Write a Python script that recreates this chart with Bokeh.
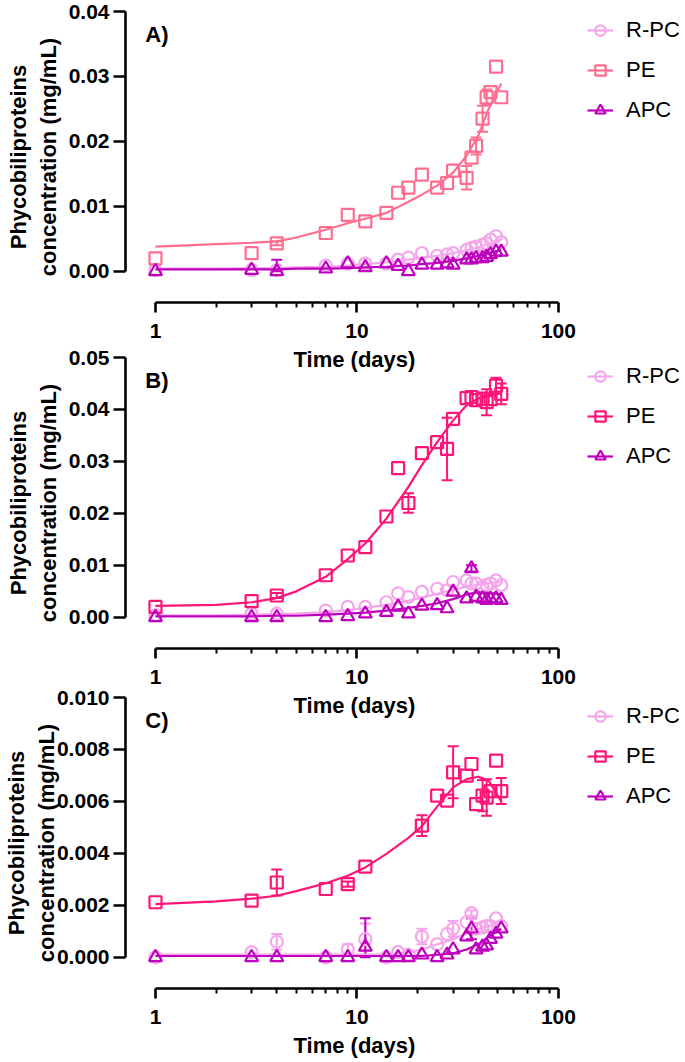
from bokeh.plotting import figure
from bokeh.layouts import column
from bokeh.models import (ColumnDataSource, Whisker, TeeHead, Legend, LegendItem, Title,
                          FixedTicker, PrintfTickFormatter, Label, Range1d)
from bokeh.embed import file_html
from bokeh.resources import INLINE

nan = float("nan")

# ---------------- data ----------------
days = [1, 3, 4, 7, 9, 11, 14, 16, 18, 21, 25, 28, 30, 35, 37, 39, 42, 44, 46, 49, 52]
fit_days = [1, 2, 3, 4, 5, 7, 9, 11, 14, 18, 21, 25, 30, 35, 40, 45, 52]

# Panel A
A_RPC = [0.0002, 0.0002, 0.0002, 0.0009, 0.0012, 0.0012, 0.0012, 0.0018, 0.0021, 0.0028, 0.0024,
         0.0026, 0.0028, 0.0033, 0.0036, 0.0038, 0.0041, 0.0043, 0.0049, 0.0054, 0.0045]
A_PE = [0.0020, 0.0028, 0.0043, 0.0059, 0.0087, 0.0077, 0.0090, 0.0121, 0.0129, 0.0149, 0.0129,
        0.0136, 0.0155, 0.0144, 0.0175, 0.0193, 0.0235, 0.0268, 0.0276, 0.0315, 0.0268]
A_APC = [0.0000, 0.0002, 0.0000, 0.0004, 0.0012, 0.0006, 0.0012, 0.0008, 0.0000, 0.0010, 0.0010,
         0.0012, 0.0010, 0.0018, 0.0018, 0.0020, 0.0020, 0.0022, 0.0026, 0.0030, 0.0030]
A_RPC_err = [0, 0, 0.0003, 0, 0, 0, 0, 0, 0, 0, 0, 0, 0, 0, 0, 0, 0, 0, 0, 0, 0]
A_PE_err = [0, 0, 0.0003, 0, 0, 0, 0, 0, 0, 0, 0, 0, 0, 0.0018, 0, 0.0013, 0.0020, 0.0012, 0, 0, 0]
A_APC_err = [0, 0, 0.0018, 0, 0, 0, 0, 0, 0, 0, 0, 0, 0, 0, 0, 0, 0, 0, 0, 0, 0]
A_RPC_fit = [0.0004, 0.0004, 0.0005, 0.0005, 0.0006, 0.0007, 0.0009, 0.0011, 0.0014, 0.0018, 0.0021,
             0.0024, 0.0028, 0.0032, 0.0037, 0.0042, 0.0050]
A_PE_fit = [0.0038, 0.0042, 0.0044, 0.0046, 0.0052, 0.0064, 0.0074, 0.0081, 0.0090, 0.0107, 0.0118,
            0.0132, 0.0152, 0.0178, 0.0209, 0.0250, 0.0289]
A_APC_fit = [0.0003, 0.0003, 0.0003, 0.0003, 0.0004, 0.0004, 0.0005, 0.0006, 0.0007, 0.0009, 0.0011,
             0.0013, 0.0016, 0.0020, 0.0024, 0.0028, 0.0033]

# Panel B
B_RPC = [0.0004, 0.0007, 0.0007, 0.0013, 0.0020, 0.0020, 0.0029, 0.0046, 0.0039, 0.0049, 0.0055,
         0.0052, 0.0068, 0.0071, 0.0065, 0.0065, 0.0058, 0.0062, 0.0065, 0.0071, 0.0062]
B_PE = [0.0020, 0.0031, 0.0042, 0.0081, 0.0119, 0.0135, 0.0194, 0.0287, 0.0220, 0.0316, 0.0337,
        0.0324, 0.0382, 0.0422, 0.0424, 0.0418, 0.0421, 0.0414, 0.0420, 0.0446, 0.0430]
B_APC = [0.0000, 0.0000, 0.0000, 0.0000, 0.0002, 0.0007, 0.0010, 0.0020, 0.0007, 0.0022, 0.0023,
         0.0017, 0.0049, 0.0036, 0.0094, 0.0039, 0.0036, 0.0033, 0.0035, 0.0036, 0.0033]
B_RPC_err = [0, 0, 0, 0, 0, 0, 0, 0, 0, 0, 0, 0, 0, 0, 0, 0, 0, 0, 0, 0, 0]
B_PE_err = [0, 0, 0.0005, 0, 0, 0, 0, 0, 0.0019, 0, 0, 0.0060, 0, 0, 0, 0, 0, 0.0025, 0, 0.0015, 0.0020]
B_APC_err = [0, 0, 0, 0, 0, 0, 0, 0, 0, 0, 0, 0, 0, 0, 0.0006, 0, 0, 0, 0, 0, 0]
B_RPC_fit = [0.0004, 0.0004, 0.0005, 0.0006, 0.0007, 0.0010, 0.0014, 0.0018, 0.0024, 0.0032, 0.0038,
             0.0045, 0.0053, 0.0059, 0.0063, 0.0066, 0.0068]
B_PE_fit = [0.0022, 0.0024, 0.0029, 0.0037, 0.0050, 0.0078, 0.0112, 0.0142, 0.0190, 0.0251, 0.0293,
            0.0337, 0.0379, 0.0408, 0.0421, 0.0427, 0.0431]
B_APC_fit = [0.0002, 0.0002, 0.0002, 0.0003, 0.0003, 0.0005, 0.0007, 0.0009, 0.0013, 0.0018, 0.0022,
             0.0027, 0.0035, 0.0044, 0.0048, 0.0047, 0.0044]

# Panel C
C_RPC = [0.0000, 0.0002, 0.0006, 0.0000, 0.0003, 0.0007, 0.0000, 0.0002, 0.0001, 0.0008, 0.0005,
         0.0009, 0.0011, 0.00135, 0.0017, 0.0011, 0.00115, 0.0012, 0.0012, 0.0015, 0.0012]
C_PE = [0.00212, 0.00218, 0.00288, 0.00263, 0.00282, 0.00349, nan, nan, nan, 0.00507, 0.00622,
        0.00603, 0.00712, 0.00699, 0.00744, 0.00590, 0.00622, 0.00615, 0.00640, 0.00757, 0.00640]
C_APC = [0.0000, 0.0000, 0.0000, 0.0000, 0.0000, 0.0004, 0.0000, 0.0000, 0.0000, 0.0001, 0.0000,
         0.0001, 0.0003, 0.0008, 0.0011, 0.0003, 0.0004, 0.00045, 0.0007, 0.0009, 0.0011]
C_RPC_err = [0, 0, 0.0003, 0, 0.0002, 0.0006, 0, 0, 0, 0.0003, 0, 0, 0.0003, 0, 0.0001, 0, 0, 0, 0, 0, 0]
C_PE_err = [0, 0, 0.0005, 0, 0.0001, 0, 0, 0, 0, 0.0004, 0, 0, 0.0010, 0, 0, 0, 0.0006, 0.0007, 0, 0, 0.0005]
C_APC_err = [0, 0, 0, 0, 0, 0.0011, 0, 0, 0, 0, 0, 0, 0, 0, 0.0004, 0, 0, 0, 0, 0, 0]
C_RPC_fit = [0.0001, 0.0001, 0.0001, 0.0001, 0.0001, 0.0001, 0.0001, 0.0001, 0.0001, 0.0002, 0.0003,
             0.0005, 0.0007, 0.0009, 0.0011, 0.0012, 0.0014]
C_PE_fit = [0.00205, 0.00215, 0.00226, 0.00237, 0.00255, 0.00285, 0.00314, 0.00346, 0.00398, 0.00460,
            0.00505, 0.00580, 0.00654, 0.00686, 0.00695, 0.00680, 0.00600]
C_APC_fit = [0.00005, 0.00005, 0.00005, 0.00005, 0.00005, 0.00005, 0.00005, 0.00005, 0.00005, 0.00005,
             0.00005, 0.0001, 0.00015, 0.0003, 0.0005, 0.0008, 0.0011]

series_names = ["R-PC", "PE", "APC"]
A_yticks = [0.0, 0.01, 0.02, 0.03, 0.04]
B_yticks = [0.0, 0.01, 0.02, 0.03, 0.04, 0.05]
C_yticks = [0.0, 0.002, 0.004, 0.006, 0.008, 0.010]
x_ticks = [1, 10, 100]

# ---------------- styles ----------------
FONT = "Liberation Sans"
COL_RPC = "#F5A6EA"
COL_PE_A = "#FF6E8E"
COL_PE_BC = "#FF1478"
COL_APC = "#BE00BE"

W = 685
FRAME_H = 291


def panel(letter, yticks, fmt, rpc, pe, apc, errs, fits, pe_color, height, top_border,
          bottom_border, margin_top, label_standoff):
    ymax = yticks[-1]
    p = figure(width=W, height=height, x_axis_type="log",
               x_range=Range1d(0.71, 427), y_range=Range1d(-0.12 * ymax, ymax),
               output_backend="svg", toolbar_location=None,
               min_border_left=125, min_border_right=0, min_border_top=top_border,
               min_border_bottom=bottom_border, margin=(margin_top, 0, 0, 0),
               background_fill_color=None, border_fill_color=None, outline_line_color=None)
    p.grid.visible = False

    for ax in (p.xaxis[0], p.yaxis[0]):
        ax.axis_line_width = 2.6
        ax.axis_line_color = "black"
        ax.major_tick_line_width = 2.6
        ax.minor_tick_line_width = 2
        ax.major_label_text_font = FONT
        ax.major_label_text_font_style = "bold"
        ax.major_label_text_font_size = "21px"
        ax.major_label_text_color = "black"
        ax.axis_label_text_font = FONT
        ax.axis_label_text_font_style = "bold"
        ax.axis_label_text_font_size = "22px"
        ax.axis_label_text_color = "black"
        ax.major_tick_in = 0
        ax.minor_tick_in = 0

    xa = p.xaxis[0]
    xa.ticker = FixedTicker(ticks=x_ticks,
                            minor_ticks=[m * 10 ** e for e in (0, 1) for m in range(2, 10)])
    xa.formatter = PrintfTickFormatter(format="%d")
    xa.bounds = (1, 100)
    xa.major_tick_out = 10
    xa.minor_tick_out = 5
    xa.major_label_standoff = 11

    # x-axis title, centred under the 1..100 axis line
    p.add_layout(Title(text="Time (days)", align="left", offset=168, standoff=8,
                       text_font=FONT, text_font_style="bold", text_font_size="22px",
                       text_color="black"), "below")

    ya = p.yaxis[0]
    ya.ticker = FixedTicker(ticks=yticks, minor_ticks=[])
    ya.formatter = PrintfTickFormatter(format=fmt)
    ya.bounds = (0, ymax)
    ya.major_tick_out = 12
    ya.major_label_standoff = 4
    ya.axis_label = "Phycobiliproteins\nconcentration (mg/mL)"
    ya.axis_label_standoff = label_standoff

    colors = [COL_RPC, pe_color, COL_APC]
    markers = ["circle", "square", "triangle"]
    sizes = [12, 12, 13]
    items = []
    for name, vals, err, fit, col, mk, sz in zip(series_names, [rpc, pe, apc], errs, fits,
                                                 colors, markers, sizes):
        lr = p.line(fit_days, fit, line_color=col, line_width=2.2)
        ex = [d for d, e in zip(days, err) if e > 0]
        if ex:
            src = ColumnDataSource(dict(
                x=ex,
                lo=[max(v - e, 0.0) for v, e in zip(vals, err) if e > 0],
                hi=[v + e for v, e in zip(vals, err) if e > 0]))
            p.add_layout(Whisker(source=src, base="x", lower="lo", upper="hi",
                                 line_color=col, line_width=2,
                                 upper_head=TeeHead(size=11, line_color=col, line_width=2),
                                 lower_head=TeeHead(size=11, line_color=col, line_width=2)))
        sr = p.scatter(days, vals, marker=mk, size=sz, line_color=col, line_width=2.2,
                       fill_color="white", fill_alpha=0)
        items.append(LegendItem(label=name, renderers=[lr, sr]))

    legend = Legend(items=items, location=(462, FRAME_H + 2 - 118),
                    label_text_font=FONT, label_text_font_size="22px", label_text_color="black",
                    glyph_width=26, glyph_height=30, label_height=34, label_standoff=13,
                    spacing=6, padding=2, margin=0,
                    border_line_color=None, background_fill_alpha=0)
    p.add_layout(legend, "center")

    p.add_layout(Label(x=0.89, y=ymax * 0.91, text=letter, text_font=FONT,
                       text_font_style="bold", text_font_size="22px", text_color="black",
                       text_baseline="middle", text_align="left"))
    return p


pA = panel("A)", A_yticks, "%.2f", A_RPC, A_PE, A_APC, [A_RPC_err, A_PE_err, A_APC_err],
           [A_RPC_fit, A_PE_fit, A_APC_fit], COL_PE_A, 376, 11, 74, 0, 5)
pB = panel("B)", B_yticks, "%.2f", B_RPC, B_PE, B_APC, [B_RPC_err, B_PE_err, B_APC_err],
           [B_RPC_fit, B_PE_fit, B_APC_fit], COL_PE_BC, 375, 10, 74, -29, 5)
pC = panel("C)", C_yticks, "%.3f", C_RPC, C_PE, C_APC, [C_RPC_err, C_PE_err, C_APC_err],
           [C_RPC_fit, C_PE_fit, C_APC_fit], COL_PE_BC, 375, 10, 74, -35, -5)

layout = column(pA, pB, pC, spacing=0)
open("out.html", "w").write(file_html(layout, INLINE))
